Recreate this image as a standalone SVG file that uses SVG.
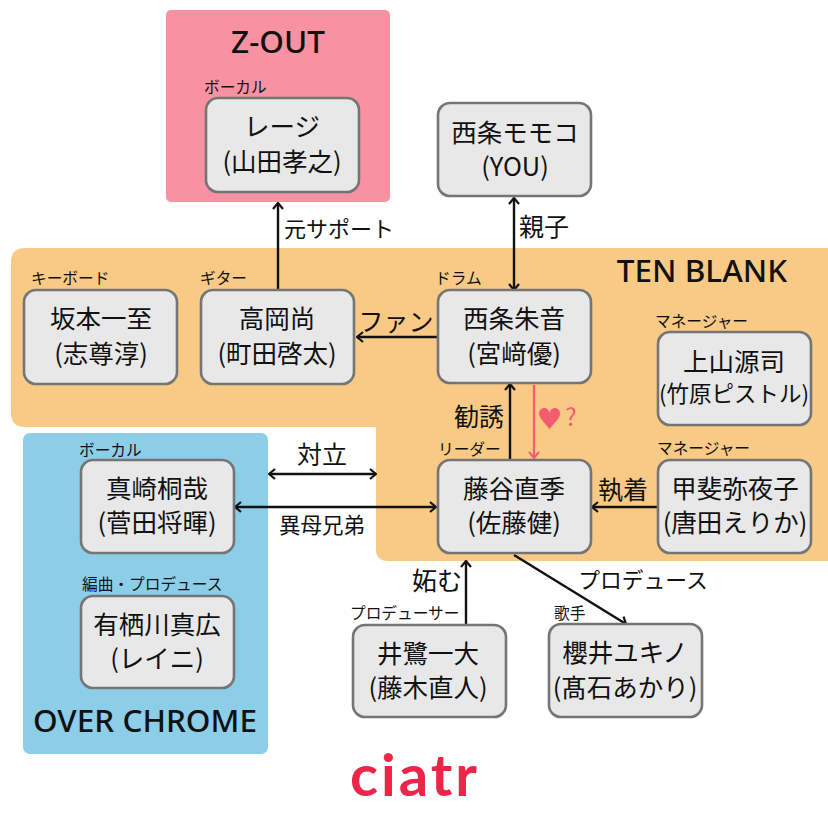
<svg xmlns="http://www.w3.org/2000/svg" width="828" height="828" viewBox="0 0 828 828">
<style>
text{font-family:"Noto Sans CJK JP","Noto Sans",sans-serif;fill:#111;text-anchor:middle}
.box{fill:#e8e8e8;stroke:#757575;stroke-width:2.6}
.n{font-size:25.5px}
.r{font-size:15.7px;text-anchor:start}
.e{font-size:25px}
.t{font-size:31.5px;font-family:"Noto Sans",sans-serif;font-weight:500}
.c{fill:none;stroke:#111;stroke-width:2.4}
.a{marker-end:url(#h)}
.b{marker-start:url(#hs);marker-end:url(#h)}
</style>
<defs>
<marker id="h" markerUnits="userSpaceOnUse" viewBox="0 0 12 12" refX="11" refY="6" markerWidth="12" markerHeight="12" orient="auto"><path d="M5 1L11 6L5 11" fill="none" stroke="#111" stroke-width="2.2"/></marker>
<marker id="hs" markerUnits="userSpaceOnUse" viewBox="0 0 12 12" refX="1" refY="6" markerWidth="12" markerHeight="12" orient="auto"><path d="M7 1L1 6L7 11" fill="none" stroke="#111" stroke-width="2.2"/></marker>
<marker id="hp" markerUnits="userSpaceOnUse" viewBox="0 0 12 12" refX="11" refY="6" markerWidth="12" markerHeight="12" orient="auto"><path d="M5 1L11 6L5 11" fill="none" stroke="#f45b6e" stroke-width="2"/></marker>
</defs>
<rect width="828" height="828" fill="#fff"/>
<g id="groups">
<rect x="166" y="10" width="224" height="192" rx="5" fill="#f892a2"/>
<path d="M828 248H25Q11 248 11 262V413Q11 427 25 427H376V549Q376 561 388 561H828Z" fill="#f8ca86"/>
<rect x="23" y="433" width="245" height="321" rx="7" fill="#8ccee7"/>
<text class="t" x="278" y="53">Z-OUT</text>
<text class="t" x="702" y="282">TEN BLANK</text>
<text class="t" x="145" y="732">OVER CHROME</text>
</g>
<g id="connectors">
<path class="c a" d="M278 290V203"/>
<path class="c b" d="M514 290V198"/>
<path class="c a" d="M437 337H357"/>
<path class="c a" d="M510 460V384"/>
<path d="M534 385V458" fill="none" stroke="#f45b6e" stroke-width="2.2" marker-end="url(#hp)"/>
<path class="c a" d="M657 507H592"/>
<path class="c b" d="M269 474H376"/>
<path class="c b" d="M235 507H436"/>
<path class="c a" d="M466 624V561"/>
<path class="c a" d="M514 555L626 624"/>
<text x="339" y="237" font-size="22">元サポート</text>
<text class="e" x="544" y="236">親子</text>
<text class="e" x="396" y="331">ファン</text>
<text class="e" x="479" y="426">勧誘</text>
<text x="549.5" y="429" font-size="29" style="fill:#f45b6e;font-family:'DejaVu Sans',sans-serif">♥</text>
<text x="571" y="426" font-size="24" style="fill:#f45b6e">?</text>
<text class="e" x="623" y="499">執着</text>
<text class="e" x="322" y="464">対立</text>
<text x="322" y="533" font-size="21.5">異母兄弟</text>
<text class="e" x="437" y="590">妬む</text>
<text x="643" y="588" font-size="21.8">プロデュース</text>
</g>
<g id="reiji"><text class="r" x="204" y="93">ボーカル</text><rect class="box" x="206" y="98" width="153" height="94" rx="12"/><text class="n" x="282" y="136">レージ</text><text class="n" x="282" y="171">(山田孝之)</text></g>
<g id="momoko"><rect class="box" x="438" y="103" width="153" height="93" rx="12"/><text class="n" x="515" y="142">西条モモコ</text><text class="n" x="515" y="176">(YOU)</text></g>
<g id="sakamoto"><text class="r" x="31" y="284">キーボード</text><rect class="box" x="24" y="290" width="153" height="94" rx="12"/><text class="n" x="101" y="328">坂本一至</text><text class="n" x="101" y="363">(志尊淳)</text></g>
<g id="takaoka"><text class="r" x="200" y="284">ギター</text><rect class="box" x="201" y="290" width="153" height="94" rx="12"/><text class="n" x="277" y="328">高岡尚</text><text class="n" x="277" y="363">(町田啓太)</text></g>
<g id="akane"><text class="r" x="435" y="284">ドラム</text><rect class="box" x="438" y="290" width="153" height="93" rx="12"/><text class="n" x="514" y="328">西条朱音</text><text class="n" x="514" y="363">(宮﨑優)</text></g>
<g id="ueyama"><text class="r" x="655" y="327">マネージャー</text><rect class="box" x="658" y="332" width="153" height="93" rx="12"/><text class="n" x="734" y="371">上山源司</text><text class="n" x="734" y="402" style="font-size:22.5px">(竹原ピストル)</text></g>
<g id="fujitani"><text class="r" x="438" y="455">リーダー</text><rect class="box" x="438" y="460" width="153" height="93" rx="12"/><text class="n" x="514" y="498">藤谷直季</text><text class="n" x="514" y="532">(佐藤健)</text></g>
<g id="kai"><text class="r" x="657" y="454">マネージャー</text><rect class="box" x="658" y="460" width="153" height="93" rx="12"/><text class="n" x="735" y="498">甲斐弥夜子</text><text class="n" x="735" y="532">(唐田えりか)</text></g>
<g id="mazaki"><text class="r" x="79" y="456">ボーカル</text><rect class="box" x="81" y="460" width="153" height="93" rx="12"/><text class="n" x="157" y="498">真崎桐哉</text><text class="n" x="157" y="532">(菅田将暉)</text></g>
<g id="arisugawa"><text class="r" x="82" y="590">編曲・プロデュース</text><rect class="box" x="81" y="596" width="153" height="92" rx="12"/><text class="n" x="157" y="634">有栖川真広</text><text class="n" x="157" y="668">(レイニ)</text></g>
<g id="isagi"><text class="r" x="350" y="619">プロデューサー</text><rect class="box" x="353" y="625" width="153" height="92" rx="12"/><text class="n" x="428" y="663">井鷺一大</text><text class="n" x="428" y="697">(藤木直人)</text></g>
<g id="sakurai"><text class="r" x="554" y="619">歌手</text><rect class="box" x="549" y="624" width="153" height="93" rx="12"/><text class="n" x="625" y="662">櫻井ユキノ</text><text class="n" x="625" y="697">(髙石あかり)</text></g>
<text x="415" y="796" style="font-family:'Lato','Noto Sans',sans-serif;font-size:58px;font-weight:700;fill:#ee2449;letter-spacing:3px">ciatr</text>
</svg>
